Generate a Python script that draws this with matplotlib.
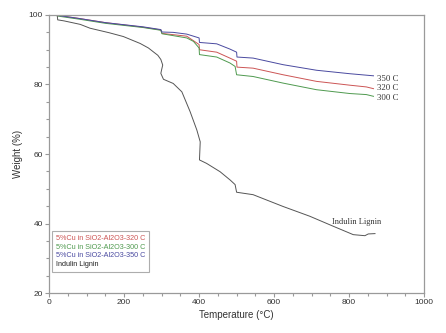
import matplotlib.pyplot as plt
from matplotlib.ticker import MultipleLocator

# temperature (C) / weight (%)
t_lignin = [22, 23, 40, 83, 109, 160, 198, 243, 265, 278, 290, 298, 303, 300, 298, 305, 318, 331,
            354, 376, 394, 403, 401, 420, 456, 483, 496, 500, 544, 624, 695, 758, 811, 842, 851, 869]
w_lignin = [99.7, 98.6, 98.3, 97.3, 96.2, 94.9, 93.8, 91.8, 90.5, 89.4, 88.4, 87.2, 85.6, 84.2, 83.2,
            81.5, 80.9, 80.3, 77.9, 72.2, 66.9, 63.5, 58.3, 57.3, 54.9, 52.5, 51.2, 49.0, 48.3, 44.9,
            42.1, 39.2, 36.8, 36.5, 37.0, 37.1]

t_350 = [22, 80, 150, 250, 298, 301, 331, 367, 400, 401, 447, 482, 500, 501, 544, 624, 713, 802, 865]
w_350 = [99.9, 99.0, 97.8, 96.6, 95.8, 95.1, 95.0, 94.5, 93.4, 92.1, 91.7, 90.2, 89.3, 87.9, 87.6, 85.7, 84.1, 83.1, 82.5]

t_320 = [22, 80, 150, 250, 298, 301, 367, 400, 401, 447, 482, 500, 501, 544, 624, 713, 802, 846, 865]
w_320 = [99.9, 99.0, 97.8, 96.5, 95.7, 94.7, 93.9, 91.5, 90.0, 89.3, 87.6, 86.7, 85.0, 84.7, 82.8, 80.9, 79.8, 79.3, 78.8]

t_300 = [22, 80, 150, 250, 298, 301, 367, 385, 400, 401, 447, 482, 496, 500, 544, 624, 713, 802, 846, 865]
w_300 = [99.7, 98.8, 97.6, 96.4, 95.6, 94.6, 93.4, 92.4, 90.5, 88.6, 87.9, 86.2, 85.2, 82.8, 82.3, 80.4, 78.5, 77.4, 77.1, 76.6]

labels = ["5%Cu in SiO2-Al2O3-320 C", "5%Cu in SiO2-Al2O3-300 C",
          "5%Cu in SiO2-Al2O3-350 C", "Indulin Lignin"]
end_labels = ["350 C", "320 C", "300 C"]
end_y = [81.7, 79.0, 76.2]

plt.rcParams["font.family"] = "Liberation Sans"

fig = plt.figure(figsize=(4.46, 3.33), dpi=100)
ax = fig.add_axes([0.110, 0.120, 0.841, 0.835])

c_red, c_green, c_blue, c_black = "#cc5555", "#4f9a4f", "#4a4aa0", "#555555"
l1, = ax.plot(t_320, w_320, color=c_red, lw=0.7)
l2, = ax.plot(t_300, w_300, color=c_green, lw=0.7)
l3, = ax.plot(t_350, w_350, color=c_blue, lw=0.7)
l4, = ax.plot(t_lignin, w_lignin, color=c_black, lw=0.7)

for txt, y in zip(end_labels, end_y):
    ax.text(875, y, txt, fontsize=6.3, family="Liberation Serif", color="#333333", va="center")
ax.text(819, 40.4, "Indulin Lignin", fontsize=6, family="Liberation Serif", color="#333333",
        ha="center", va="center")

ax.set_xlim(0, 1000)
ax.set_ylim(20, 100)
ax.xaxis.set_major_locator(MultipleLocator(200))
ax.xaxis.set_minor_locator(MultipleLocator(50))
ax.yaxis.set_major_locator(MultipleLocator(20))
ax.yaxis.set_minor_locator(MultipleLocator(5))
ax.tick_params(which="both", colors="#999999", labelcolor="#333333", labelsize=6, width=0.8)
ax.tick_params(which="major", length=3, pad=1.5)
ax.tick_params(which="minor", length=2)
for s in ax.spines.values():
    s.set_color("#9a9a9a")
    s.set_linewidth(0.9)

ax.set_xlabel("Temperature (°C)", fontsize=7, color="#333333", labelpad=3)
ax.set_ylabel("Weight (%)", fontsize=7, color="#333333", labelpad=4)

leg = ax.legend([l1, l2, l3, l4], labels, loc="lower left", bbox_to_anchor=(0.008, 0.076),
                fontsize=5.2, handlelength=0, handletextpad=0, frameon=True, fancybox=False,
                borderpad=0.5, labelspacing=0.25, borderaxespad=0)
leg.get_frame().set_edgecolor("#999999")
leg.get_frame().set_linewidth(0.8)
for h in leg.legend_handles:
    h.set_visible(False)
for txt, c in zip(leg.get_texts(), [c_red, c_green, c_blue, "#222222"]):
    txt.set_color(c)

fig.savefig("out.png", dpi=100)
